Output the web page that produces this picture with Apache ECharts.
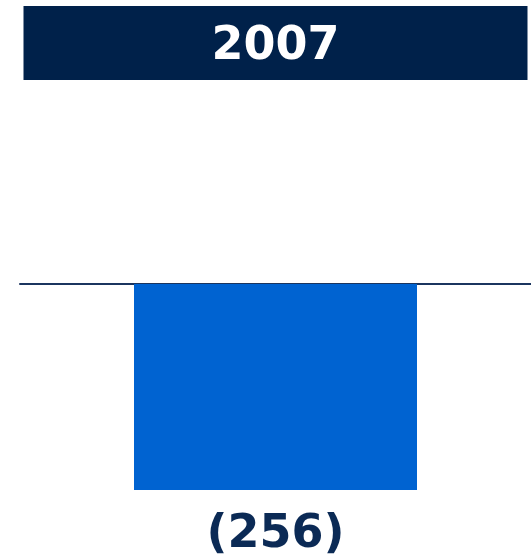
<!DOCTYPE html>
<html>
<head>
<meta charset="utf-8">
<script src="https://cdn.jsdelivr.net/npm/echarts@6/dist/echarts.min.js"></script>
<style>
    html, body { margin: 0; padding: 0; background: #fff; }
    #chart { width: 531px; height: 557px; }
</style>
</head>
<body>
<div id="chart"></div>
<script>
var categories = ['2007'];
var values = [-256];

var chart = echarts.init(document.getElementById('chart'));
chart.setOption({
    animation: false,
    grid: { left: 20, right: 0, top: 83, bottom: 67 },
    xAxis: [{
        type: 'category',
        data: categories,
        axisLine: { onZero: true, lineStyle: { color: '#1b355f', width: 2 } },
        axisTick: { show: false },
        axisLabel: { show: false }
    }, {
        // header band above the chart
        type: 'category',
        position: 'top',
        data: categories,
        axisLine: { show: false },
        axisTick: { show: false },
        axisLabel: {
            margin: 3,
            width: 504,
            height: 66,
            lineHeight: 66,
            padding: [8, 0, 0, 0],
            align: 'center',
            verticalAlign: 'bottom',
            backgroundColor: '#00214a',
            color: '#fff',
            fontFamily: 'DejaVu Sans',
            fontWeight: 'bold',
            fontSize: 46
        }
    }],
    yAxis: {
        type: 'value',
        min: -256,
        max: 250,
        show: false,
        splitLine: { show: false }
    },
    series: [{
        type: 'bar',
        data: values,
        barWidth: 283,
        itemStyle: { color: '#0063d1' },
        label: {
            show: true,
            position: 'bottom',
            distance: 22,
            color: '#0b2a55',
            fontFamily: 'DejaVu Sans',
            fontWeight: 'bold',
            fontSize: 46,
            formatter: function (p) {
                return p.value < 0 ? '(' + Math.abs(p.value) + ')' : String(p.value);
            }
        }
    }]
});
</script>
</body>
</html>
